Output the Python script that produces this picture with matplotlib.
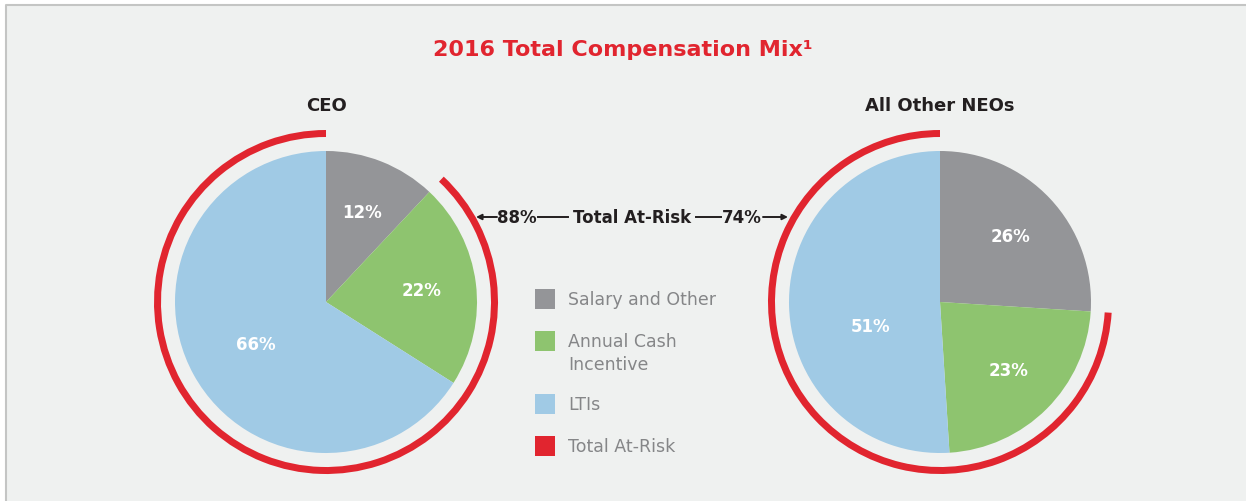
import matplotlib
matplotlib.use('Agg')
import matplotlib.pyplot as plt
from matplotlib.patches import Wedge, Rectangle

#-----------------------------------------------------------------------------#
# data

CATEGORIES = ['Salary and Other', 'Annual Cash\nIncentive', 'LTIs']
CEO_MIX = [12, 22, 66]
NEO_MIX = [26, 23, 51]
GROUP_TITLES = ['CEO', 'All Other NEOs']
RISK_LABEL = 'Total At-Risk'

#-----------------------------------------------------------------------------#
# style

RED = '#e1252f'
GRAY = '#949598'
GREEN = '#8ec46f'
BLUE = '#a0cae5'
DARK = '#231f20'
LEGEND_TXT = '#858688'
BG = '#eff1f0'
COLORS = [GRAY, GREEN, BLUE]
FONT = 'DejaVu Sans'

W, H = 1246, 502


def py(y):
    # pixel row from top -> data y (axis goes upward)
    return H - y


def draw_group(ax, values, cx, cy, title):
    r = 151
    wedges, texts, autotexts = ax.pie(
        values, colors=COLORS, center=(cx, py(cy)), radius=r,
        startangle=90, counterclock=False,
        autopct='%d%%', pctdistance=0.64,
        wedgeprops=dict(linewidth=0),
        textprops=dict(color='white', fontsize=12, fontweight='bold',
                       family=FONT),
    )
    # at-risk arc: everything except salary, clockwise from the salary edge
    salary = values[0] / sum(values)
    ax.add_patch(Wedge((cx, py(cy)), 172, 90, 450 - 360 * salary,
                       width=7, color=RED, linewidth=0))
    ax.text(cx, py(106), title, ha='center', va='center', fontsize=13,
            fontweight='bold', color=DARK, family=FONT)
    return autotexts


fig = plt.figure(figsize=(W / 100, H / 100), dpi=100)
fig.patch.set_facecolor('white')
ax = fig.add_axes([0, 0, 1, 1])

# panel (border only on top and left, like the clipped screenshot)
ax.add_patch(Rectangle((6, 0), W - 6, H - 6, facecolor=BG,
                       linewidth=0, zorder=0))
ax.plot([6, 6, W], [0, H - 6, H - 6], color='#c4c5c4', lw=1.5, zorder=0.5)

ceo_txt = draw_group(ax, CEO_MIX, 326, 303, GROUP_TITLES[0])
neo_txt = draw_group(ax, NEO_MIX, 940, 303, GROUP_TITLES[1])
# LTI labels sit a bit closer to the middle in the original
ceo_txt[2].set_position((256, py(345)))
neo_txt[2].set_position((871, py(327)))

# pie() resets the limits, so fix them afterwards
ax.set_xlim(0, W)
ax.set_ylim(0, H)
ax.set_aspect('equal')
ax.axis('off')

# title
ax.text(623, py(50), '2016 Total Compensation Mix\u00b9',
        ha='center', va='center', fontsize=16, fontweight='bold',
        color=RED, family=FONT)

# at-risk connector
ceo_risk = 100 - CEO_MIX[0]
neo_risk = 100 - NEO_MIX[0]
yc = py(218)
tk = dict(ha='center', va='center', fontsize=12, fontweight='bold',
          color=DARK, family=FONT)
ax.text(517, yc, f'{ceo_risk}%', **tk)
ax.text(632, yc, RISK_LABEL, **tk)
ax.text(742, yc, f'{neo_risk}%', **tk)
ax.plot([538, 568], [yc, yc], color=DARK, lw=1.4)
ax.plot([696, 721], [yc, yc], color=DARK, lw=1.4)
ax.annotate('', xy=(476, yc), xytext=(497, yc),
            arrowprops=dict(arrowstyle='-|>', color=DARK, lw=1.4,
                            mutation_scale=8, shrinkA=0, shrinkB=0))
ax.annotate('', xy=(788, yc), xytext=(763, yc),
            arrowprops=dict(arrowstyle='-|>', color=DARK, lw=1.4,
                            mutation_scale=8, shrinkA=0, shrinkB=0))

# legend
leg_labels = CATEGORIES + [RISK_LABEL]
leg_colors = COLORS + [RED]
leg_rows = [300, 342, 405, 447]
for lab, col, row in zip(leg_labels, leg_colors, leg_rows):
    ax.add_patch(Rectangle((535, py(row) - 10), 20, 20, color=col,
                           linewidth=0))
    for i, line in enumerate(lab.split('\n')):
        ax.text(568, py(row + 23 * i), line, ha='left', va='center',
                fontsize=12.5, color=LEGEND_TXT, family=FONT)

fig.savefig('out.png', dpi=100, facecolor=fig.get_facecolor())
